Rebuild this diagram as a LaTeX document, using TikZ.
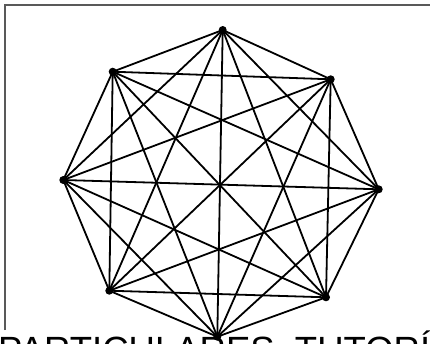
\documentclass[tikz,border=0pt]{standalone}
\usepackage{fontspec}
\setmainfont{Liberation Sans}
\usepackage{tikz}

\begin{document}
\begin{tikzpicture}[x=1pt, y=-1pt,
  vtx/.style={circle, fill=black, inner sep=0pt, minimum size=8pt},
  edge/.style={line width=1.8pt, black},
  frame/.style={line width=1.4pt, black!65}]
\useasboundingbox (0,0) rectangle (430,343);
\clip (0,0) rectangle (430,343);
\draw[frame] (5,330) -- (5,5) -- (431,5);
\node[vtx] (v1) at (222.7,30) {};
\node[vtx] (v2) at (330.7,79.3) {};
\node[vtx] (v3) at (378.7,189.3) {};
\node[vtx] (v4) at (326,297.3) {};
\node[vtx] (v5) at (217.3,336.7) {};
\node[vtx] (v6) at (109.3,290.7) {};
\node[vtx] (v7) at (63.3,180) {};
\node[vtx] (v8) at (112.7,71.7) {};
\foreach \i in {1,...,7}{
  \pgfmathtruncatemacro\k{\i+1}
  \foreach \j in {\k,...,8}
    \draw[edge] (v\i.center) -- (v\j.center);
}
\node[anchor=base west, inner sep=0pt, font=\fontsize{36.5}{40}\selectfont]
  (caption) at (-2,362) {PARTICULARES, TUTORÍAS};
\end{tikzpicture}
\end{document}
